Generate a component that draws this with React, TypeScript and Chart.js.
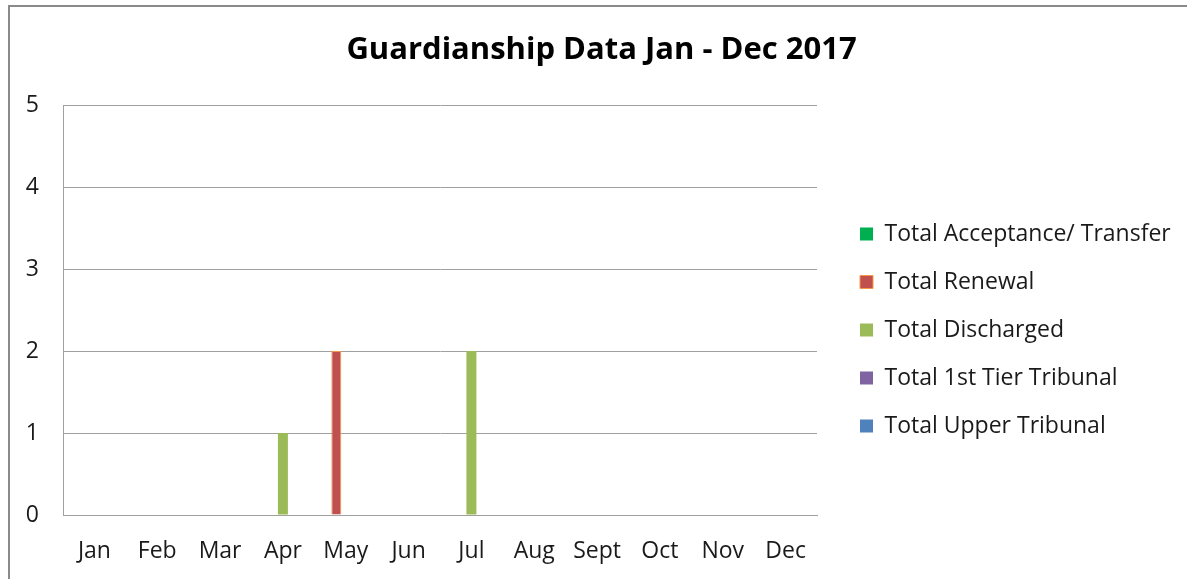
import React, { useEffect, useRef } from 'react';
import { Chart, registerables } from 'chart.js';

Chart.register(...registerables);

const months = ['Jan', 'Feb', 'Mar', 'Apr', 'May', 'Jun', 'Jul', 'Aug', 'Sept', 'Oct', 'Nov', 'Dec'];
const acceptanceTransfer = [0, 0, 0, 0, 0, 0, 0, 0, 0, 0, 0, 0];
const renewal = [0, 0, 0, 0, 2, 0, 0, 0, 0, 0, 0, 0];
const discharged = [0, 0, 0, 1, 0, 0, 2, 0, 0, 0, 0, 0];
const firstTierTribunal = [0, 0, 0, 0, 0, 0, 0, 0, 0, 0, 0, 0];
const upperTribunal = [0, 0, 0, 0, 0, 0, 0, 0, 0, 0, 0, 0];
const seriesNames = [
  'Total Acceptance/ Transfer',
  'Total Renewal',
  'Total Discharged',
  'Total 1st Tier Tribunal',
  'Total Upper Tribunal',
];
const yMin = 0;
const yMax = 5;
const yStep = 1;
const titleText = 'Guardianship Data Jan - Dec 2017';

const W = 1187;
const H = 579;
const FONT = '"Open Sans"';
const LABEL_SIZE = 23;
const TITLE_SIZE = 31;
const LEG_PAD = 25;
const BOX = 13;
const PLOT_LEFT_PAD = 16;
const PLOT_RIGHT = 817;
const LEG_DX = 18;
const LEG_DY = 40.5;

export default function App() {
  const ref = useRef<HTMLCanvasElement | null>(null);

  useEffect(() => {
    const canvas = ref.current;
    if (!canvas) return;
    const m = document.createElement('canvas').getContext('2d')!;
    m.font = `normal normal ${LABEL_SIZE}px ${FONT}`;
    const tw = Math.max(...seriesNames.map((s) => m.measureText(s).width));
    const legendW = LEG_PAD + BOX + LABEL_SIZE / 2 + tw + 10;
    const legendSpace = W - PLOT_RIGHT;
    const padRight = Math.max(0, legendSpace - legendW);

    const layoutShift = {
      id: 'layoutShift',
      afterLayout(chart: any) {
        const l = chart.legend;
        if (l) {
          l.left += LEG_DX;
          l.right += LEG_DX;
          l.top += LEG_DY;
          l.bottom += LEG_DY;
        }
        const t = chart.titleBlock;
        if (t) {
          t.left = PLOT_LEFT_PAD;
          t.right = W;
          t.width = W - PLOT_LEFT_PAD;
        }
      },
    };

    const tickFont = { family: FONT, size: LABEL_SIZE };
    const chart = new Chart(canvas, {
      type: 'bar',
      data: {
        labels: months,
        datasets: [
          { label: seriesNames[0], data: acceptanceTransfer, backgroundColor: '#00B050', borderWidth: 0 },
          { label: seriesNames[1], data: renewal, backgroundColor: '#C0504D', borderColor: '#F79646', borderWidth: 1 },
          { label: seriesNames[2], data: discharged, backgroundColor: '#9BBB59', borderWidth: 0 },
          { label: seriesNames[3], data: firstTierTribunal, backgroundColor: '#8064A2', borderWidth: 0 },
          { label: seriesNames[4], data: upperTribunal, backgroundColor: '#4F81BD', borderWidth: 0 },
        ],
      },
      options: {
        responsive: false,
        animation: false,
        layout: { padding: { left: PLOT_LEFT_PAD, right: padRight, top: 0, bottom: 0 } },
        datasets: { bar: { categoryPercentage: 0.75, barPercentage: 1.06 } } as any,
        plugins: {
          title: {
            display: true,
            text: titleText,
            color: '#000000',
            font: { family: FONT, size: TITLE_SIZE, weight: 'bold' },
            padding: { top: 32, bottom: 35.8 },
          },
          legend: {
            position: 'right',
            maxWidth: legendSpace,
            labels: {
              boxWidth: BOX,
              boxHeight: BOX,
              padding: LEG_PAD,
              color: '#1a1a1a',
              font: { family: FONT, size: LABEL_SIZE },
            },
          } as any,
          tooltip: { enabled: false },
        },
        scales: {
          x: {
            grid: { display: false, drawTicks: false },
            border: { display: true, color: '#a0a0a0', width: 1 },
            ticks: { font: tickFont, color: '#1a1a1a', padding: 23, autoSkip: false, maxRotation: 0 },
            afterFit: (s: any) => {
              s.height = 64;
            },
          },
          y: {
            min: yMin,
            max: yMax,
            ticks: { stepSize: yStep, font: tickFont, color: '#1a1a1a', padding: 24 },
            grid: { color: '#a0a0a0', drawTicks: false, lineWidth: 1 },
            border: { display: true, color: '#a0a0a0', width: 1 },
            afterFit: (s: any) => {
              s.width = 63 - PLOT_LEFT_PAD;
            },
          },
        },
      },
      plugins: [layoutShift],
    });
    return () => chart.destroy();
  }, []);

  return (
    <div style={{ position: 'fixed', left: 0, top: 0, width: W, height: H, overflow: 'hidden', background: '#fff' }}>
      <canvas ref={ref} width={W} height={H} style={{ position: 'absolute', left: 0, top: 0 }} />
      <div
        style={{
          position: 'absolute',
          left: 8,
          top: 5,
          width: 1400,
          height: 800,
          borderLeft: '2px solid #8a8a8a',
          borderTop: '2px solid #8a8a8a',
          pointerEvents: 'none',
        }}
      />
    </div>
  );
}
